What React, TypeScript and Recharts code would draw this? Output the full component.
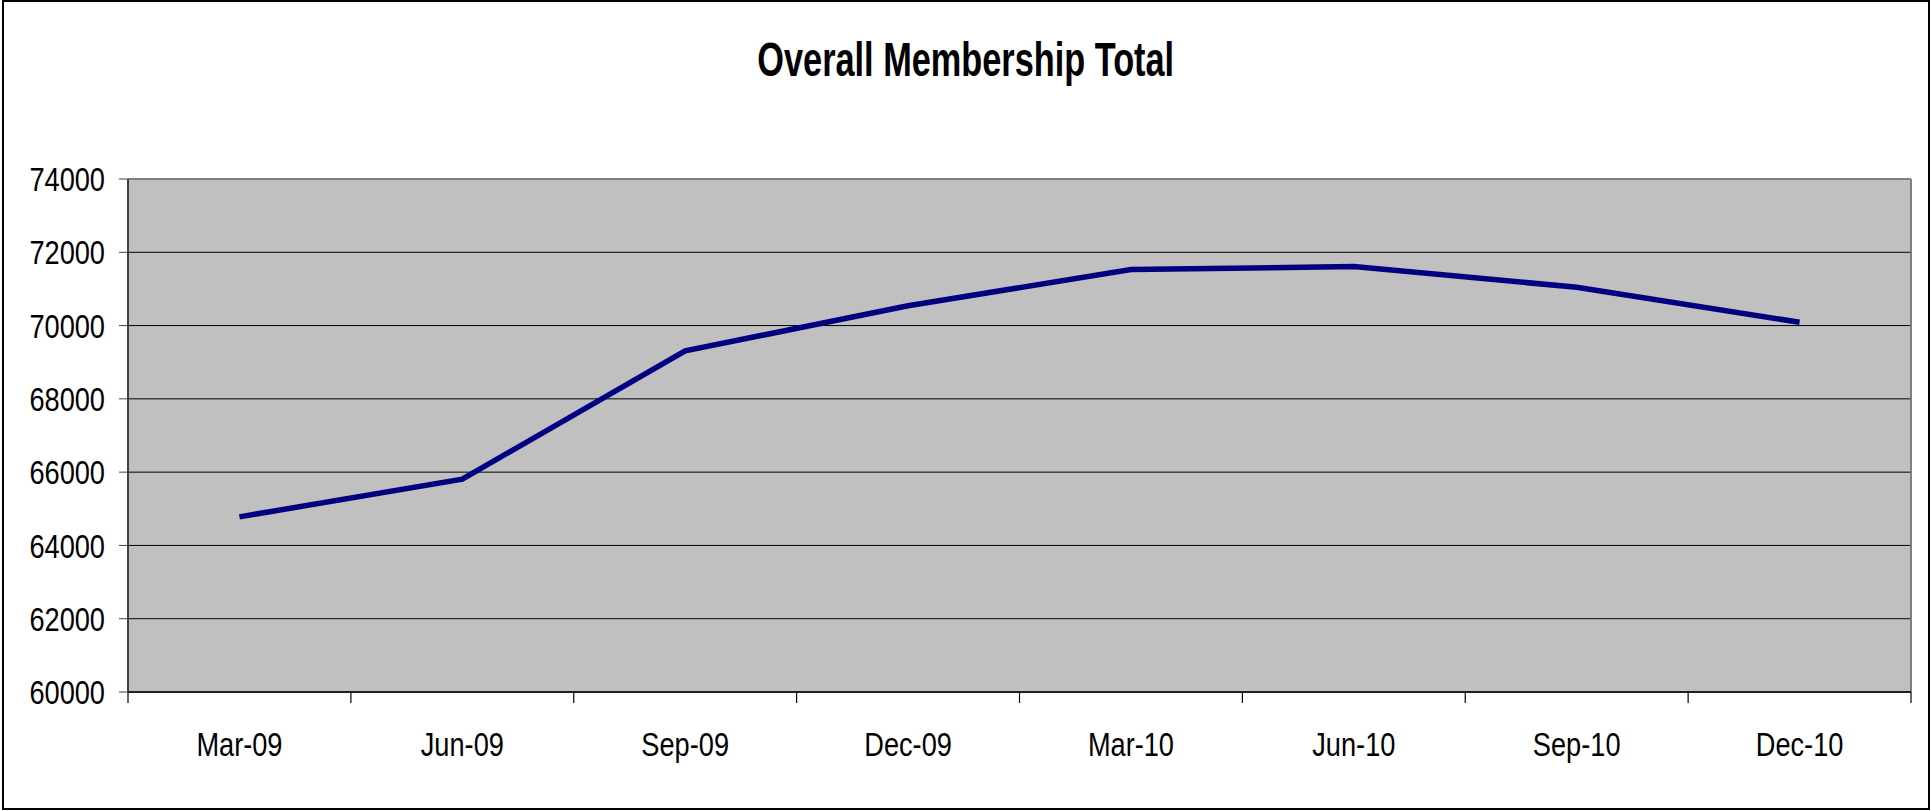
import React from 'react';
import { LineChart, Line, XAxis, YAxis, CartesianGrid, ReferenceLine } from 'recharts';

const categories = ['Mar-09', 'Jun-09', 'Sep-09', 'Dec-09', 'Mar-10', 'Jun-10', 'Sep-10', 'Dec-10'];
const membership = [64780, 65810, 69310, 70540, 71530, 71610, 71045, 70090];
const yTicks = [60000, 62000, 64000, 66000, 68000, 70000, 72000, 74000];
const gridValues = [62000, 64000, 66000, 68000, 70000, 72000];

const boundaryTicks = categories.map((_, i) => i).concat([categories.length]);
const centerTicks = categories.map((_, i) => i + 0.5);
const data = categories.map((c, i) => ({ month: c, pos: i + 0.5, total: membership[i] }));

const FONT = "'Liberation Sans', Arial, sans-serif";
const SQUEEZE = 0.8;

const YTick = (props: any) => {
  const { x, y, payload } = props;
  return (
    <g transform={`translate(${x},${y})`}>
      <text transform={`scale(${SQUEEZE},1)`} textAnchor="end" dy="0.355em" fill="#000" fontSize={34} fontFamily={FONT}>
        {payload.value}
      </text>
    </g>
  );
};

const XTick = (props: any) => {
  const { x, y, payload } = props;
  const label = categories[Math.floor(payload.value)] ?? '';
  return (
    <g transform={`translate(${x},${y})`}>
      <text transform={`scale(${SQUEEZE},1)`} textAnchor="middle" dy="0.71em" fill="#000" fontSize={34} fontFamily={FONT}>
        {label}
      </text>
    </g>
  );
};

export default function App() {
  return (
    <div style={{ position: 'absolute', left: 0, top: 0, width: 1931, height: 811, background: '#fff' }}>
      <div
        style={{
          position: 'absolute', left: 2, top: 0, width: 1928, height: 810,
          border: '2px solid #000', boxSizing: 'border-box',
        }}
      />
      <div style={{ position: 'absolute', left: 0, top: 35, width: 1931, textAlign: 'center' }}>
        <span
          style={{
            display: 'inline-block', transform: 'scaleX(0.7)', transformOrigin: 'center',
            fontFamily: FONT, fontWeight: 'bold', fontSize: 49, lineHeight: '49px', color: '#000',
            whiteSpace: 'nowrap',
          }}
        >
          Overall Membership Total
        </span>
      </div>
      <div style={{ position: 'absolute', left: 0, top: 0 }}>
        <LineChart width={1931} height={811} data={data} margin={{ top: 179, right: 20, bottom: 47, left: 0 }}>
          <CartesianGrid
            vertical={false}
            horizontal={true}
            fill="#C0C0C0"
            stroke="#000"
            strokeWidth={1}
            horizontalValues={gridValues}
          />
          <XAxis
            type="number"
            dataKey="pos"
            domain={[0, categories.length]}
            ticks={boundaryTicks}
            tickFormatter={() => ''}
            height={12}
            tickSize={11}
            interval={0}
            axisLine={{ stroke: '#202020', strokeWidth: 2 }}
            tickLine={{ stroke: '#000', strokeWidth: 1.2 }}
            allowDataOverflow
          />
          <XAxis
            xAxisId="labels"
            type="number"
            dataKey="pos"
            domain={[0, categories.length]}
            ticks={centerTicks}
            height={60}
            axisLine={false}
            tickLine={false}
            tickSize={0}
            tickMargin={28}
            interval={0}
            tick={<XTick />}
            allowDataOverflow
          />
          <YAxis
            domain={[60000, 74000]}
            ticks={yTicks}
            width={128}
            tickSize={9}
            tickMargin={14}
            interval={0}
            axisLine={{ stroke: '#404040', strokeWidth: 2 }}
            tickLine={{ stroke: '#404040', strokeWidth: 1 }}
            tick={<YTick />}
            allowDataOverflow
          />
          <ReferenceLine y={74000} stroke="#808080" strokeWidth={2} />
          <ReferenceLine x={categories.length} stroke="#808080" strokeWidth={2} />
          <Line
            xAxisId="labels"
            type="linear"
            dataKey="total"
            stroke="none"
            strokeWidth={0}
            dot={false}
            activeDot={false}
            legendType="none"
            isAnimationActive={false}
          />
          <Line
            type="linear"
            dataKey="total"
            stroke="#000080"
            strokeWidth={5.5}
            dot={false}
            activeDot={false}
            isAnimationActive={false}
          />
        </LineChart>
      </div>
    </div>
  );
}
